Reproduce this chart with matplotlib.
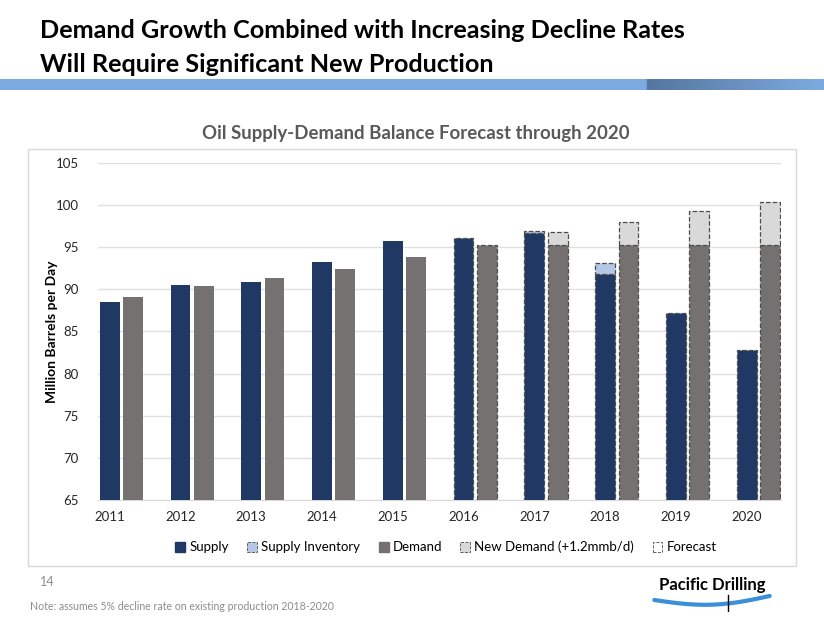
import numpy as np
import matplotlib
matplotlib.use('Agg')
import matplotlib.pyplot as plt
from matplotlib.patches import Patch, Rectangle

plt.rcParams['font.family'] = ['Lato', 'DejaVu Sans']

# chart data
years = ['2011', '2012', '2013', '2014', '2015', '2016', '2017', '2018', '2019', '2020']
supply = [88.5, 90.5, 90.9, 93.3, 95.7, 96.1, 96.7, 91.8, 87.2, 82.8]
supply_inventory = [0, 0, 0, 0, 0, 0, 0.2, 1.3, 0, 0]
demand = [89.1, 90.4, 91.3, 92.4, 93.9, 95.3, 95.3, 95.3, 95.3, 95.3]
new_demand = [0, 0, 0, 0, 0, 0, 1.5, 2.75, 3.95, 5.1]
is_forecast = [False] * 5 + [True] * 5

legend_labels = ['Supply', 'Supply Inventory', 'Demand', 'New Demand (+1.2mmb/d)', 'Forecast']

NAVY = '#1f3864'
LIGHT_BLUE = '#b4c7e7'
GRAY = '#767171'
LIGHT_GRAY = '#d9d9d9'
EDGE = '#4d4d4d'

W, H = 824, 637
fig = plt.figure(figsize=(W / 100, H / 100), dpi=100)


def fx(px):
    return px / W


def fy(py):
    return 1 - py / H


# slide heading
fig.text(fx(40), fy(31), 'Demand Growth Combined with Increasing Decline Rates',
         fontsize=18.2, fontweight='bold', va='center', ha='left')
fig.text(fx(40), fy(64), 'Will Require Significant New Production',
         fontsize=18.2, fontweight='bold', va='center', ha='left')

# blue banner under heading
banner = fig.add_axes([0, fy(90), 1, fy(79) - fy(90)])
banner.axis('off')
grad = np.ones((1, 400, 3))
base = np.array([0.49, 0.67, 0.88])
dark = np.array([0.33, 0.46, 0.62])
xs = np.linspace(0, 1, 400)
for i, t in enumerate(xs):
    if t < 0.785:
        grad[0, i] = base
    else:
        k = min(1.0, (t - 0.785) / 0.215)
        grad[0, i] = dark * (1 - k) + base * k
banner.imshow(grad, aspect='auto', extent=[0, 1, 0, 1])
banner.set_xlim(0, 1)

# chart frame
fig.patches.append(Rectangle((fx(28), fy(566)), fx(796) - fx(28), fy(149) - fy(566),
                             transform=fig.transFigure, fill=False,
                             edgecolor='#d9d9d9', linewidth=1))

fig.text(fx(416), fy(133), 'Oil Supply-Demand Balance Forecast through 2020',
         fontsize=13.4, fontweight='bold', color='#595959', ha='center', va='center')

ax = fig.add_axes([fx(98), fy(500), fx(781) - fx(98), fy(163) - fy(500)])

x = np.arange(len(years))
bw = 0.28
off = 0.33

for i in range(len(years)):
    ls = '--' if is_forecast[i] else '-'
    lw = 0.9 if is_forecast[i] else 0
    ax.bar(x[i], supply[i], width=bw, color=NAVY, edgecolor=EDGE, linestyle=ls, linewidth=lw, zorder=3)
    if supply_inventory[i] > 0:
        ax.bar(x[i], supply_inventory[i], bottom=supply[i], width=bw, color=LIGHT_BLUE,
               edgecolor=EDGE, linestyle=ls, linewidth=lw, zorder=3)
    ax.bar(x[i] + off, demand[i], width=bw, color=GRAY, edgecolor=EDGE, linestyle=ls, linewidth=lw, zorder=3)
    if new_demand[i] > 0:
        ax.bar(x[i] + off, new_demand[i], bottom=demand[i], width=bw, color=LIGHT_GRAY,
               edgecolor=EDGE, linestyle=ls, linewidth=lw, zorder=3)

ax.set_ylim(65, 105)
ax.set_yticks(np.arange(65, 106, 5))
ax.set_xlim(-0.165, 9.485)
ax.set_xticks(x)
ax.set_xticklabels(years)
ax.tick_params(axis='both', length=0, labelsize=9.5, colors='#262626', pad=8)
ax.tick_params(axis='y', pad=14)
ax.grid(axis='y', color='#e0e0e0', linewidth=1, zorder=0)
for s in ['top', 'right', 'left']:
    ax.spines[s].set_visible(False)
ax.spines['bottom'].set_color('#d9d9d9')
ax.set_ylabel('Million Barrels per Day', fontsize=10, fontweight='bold')
ax.yaxis.set_label_coords(-0.058, 0.5)

handles = [
    Patch(facecolor=NAVY, edgecolor=NAVY),
    Patch(facecolor=LIGHT_BLUE, edgecolor=EDGE, linestyle='--', linewidth=0.6),
    Patch(facecolor=GRAY, edgecolor=GRAY),
    Patch(facecolor=LIGHT_GRAY, edgecolor=EDGE, linestyle='--', linewidth=0.6),
    Patch(facecolor='white', edgecolor=EDGE, linestyle='--', linewidth=0.6),
]
fig.legend(handles, legend_labels, loc='center', bbox_to_anchor=(fx(446), fy(547)),
           ncol=5, frameon=False, fontsize=9.5, handlelength=0.75, handleheight=0.75,
           handletextpad=0.3, columnspacing=1.4)

# footer
fig.text(fx(40), fy(582), '14', fontsize=9, color='#8c8c8c', va='center')
fig.text(fx(30), fy(606), 'Note: assumes 5% decline rate on existing production 2018-2020',
         fontsize=7.6, color='#8c8c8c', va='center')

# logo
fig.text(fx(712), fy(585), 'Pacific Drilling', fontsize=12, fontweight='bold',
         ha='center', va='center', color='black')
logo = fig.add_axes([fx(652), fy(612), fx(772) - fx(652), fy(592) - fy(612)])
logo.axis('off')
t = np.linspace(0, 1, 50)
logo.plot(t, 0.6 - 0.5 * np.sin(np.pi * t) + 0.3 * t, color='#3a8fd9', linewidth=3, solid_capstyle='round')
logo.plot([0.64, 0.64], [-0.2, 1.0], color='black', linewidth=1)
logo.set_xlim(-0.02, 1.02)
logo.set_ylim(-0.3, 1.2)

fig.savefig('out.png', dpi=100)
